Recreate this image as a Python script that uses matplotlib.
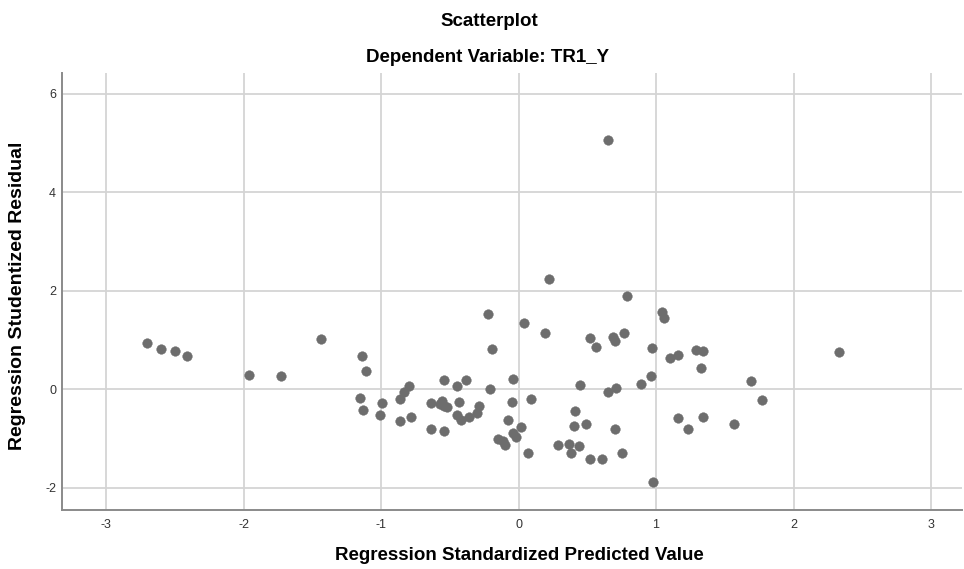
import matplotlib
matplotlib.use("Agg")
import matplotlib.pyplot as plt
from matplotlib.ticker import FixedLocator

predicted = [
    -2.70, -2.60, -2.50, -2.41, -1.96, -1.73, -1.44, -1.14, -1.11, -1.15,
    -1.13, -0.99, -1.01, -0.86, -0.83, -0.80, -0.86, -0.78, -0.64, -0.64,
    -0.57, -0.56, -0.54, -0.52, -0.54, -0.54, -0.45, -0.45, -0.43, -0.42,
    -0.38, -0.36, -0.30, -0.29, -0.22, -0.19, -0.21, -0.15, -0.11, -0.10,
    -0.08, -0.05, -0.04, -0.04, -0.02, 0.02, 0.04, 0.07, 0.09, 0.19,
    0.22, 0.29, 0.37, 0.44, 0.38, 0.40, 0.41, 0.49, 0.45, 0.52,
    0.61, 0.52, 0.56, 0.65, 0.71, 0.70, 0.75, 0.69, 0.70, 0.77,
    0.79, 0.89, 0.96, 0.97, 0.98, 1.04, 1.06, 1.10, 1.16, 1.16,
    0.65, 1.29, 1.34, 1.33, 1.69, 1.77, 1.23, 1.34, 1.57, 2.33,
]
residual = [
    0.95, 0.81, 0.77, 0.68, 0.30, 0.28, 1.03, 0.68, 0.37, -0.18,
    -0.41, -0.27, -0.52, -0.20, -0.06, 0.06, -0.64, -0.56, -0.27, -0.81,
    -0.30, -0.23, -0.33, -0.35, 0.18, -0.85, 0.07, -0.52, -0.26, -0.63,
    0.18, -0.56, -0.49, -0.33, 1.52, 0.82, 0.01, -1.01, -1.04, -1.13,
    -0.62, -0.26, 0.21, -0.89, -0.96, -0.77, 1.35, -1.30, -0.20, 1.14,
    2.25, -1.13, -1.11, -1.15, -1.30, -0.75, -0.43, -0.70, 0.09, -1.42,
    -1.41, 1.04, 0.85, -0.06, 0.02, -0.81, -1.30, 1.06, 0.99, 1.14,
    1.89, 0.11, 0.27, 0.84, -1.89, 1.57, 1.44, 0.63, 0.70, -0.58,
    5.06, 0.80, 0.77, 0.44, 0.17, -0.22, -0.80, -0.56, -0.70, 0.76,
]
x_ticks = [-3, -2, -1, 0, 1, 2, 3]
y_ticks = [-2, 0, 2, 4, 6]
title_main = "Scatterplot"
title_sub = "Dependent Variable: TR1_Y"
x_label = "Regression Standardized Predicted Value"
y_label = "Regression Studentized Residual"

plt.rcParams['font.family'] = ['Liberation Sans', 'DejaVu Sans']

W, H = 964, 569
fig = plt.figure(figsize=(W / 100, H / 100), dpi=100)
left, right, top, bottom = 62, 962, 72.7, 510
ax = fig.add_axes([left / W, 1 - bottom / H, (right - left) / W, (bottom - top) / H])

ax.scatter(predicted, residual, s=48, color='#6d6d6d', edgecolors='#6d6d6d',
           linewidths=0.3, zorder=3)

ax.set_xlim(-3.32, 3.225)
ax.set_ylim(-2.45, 6.43)
ax.xaxis.set_major_locator(FixedLocator(x_ticks))
ax.yaxis.set_major_locator(FixedLocator(y_ticks))
tick_family = ['Liberation Sans Narrow', 'Liberation Sans', 'DejaVu Sans']
ax.set_xticklabels([str(v) for v in x_ticks], family=tick_family)
ax.set_yticklabels([str(v) for v in y_ticks], family=tick_family)
ax.tick_params(length=0, labelsize=9, colors='#333333')
ax.tick_params(axis='x', pad=6.5)
ax.tick_params(axis='y', pad=4.3)
ax.grid(True, color='#d4d4d4', linewidth=1.3, zorder=0)
ax.set_axisbelow(True)
for s in ['top', 'right']:
    ax.spines[s].set_visible(False)
for s in ['left', 'bottom']:
    ax.spines[s].set_color('#8a8a8a')
    ax.spines[s].set_linewidth(1.4)

fig.text(489 / W, 1 - 22 / H, title_main, ha='center', va='center',
         fontsize=13.5, fontweight='bold')
fig.text(487.5 / W, 1 - 57 / H, title_sub, ha='center', va='center',
         fontsize=13.5, fontweight='bold')
fig.text(519 / W, 1 - 556 / H, x_label, ha='center', va='center',
         fontsize=13.5, fontweight='bold')
fig.text(18 / W, 1 - 295.5 / H, y_label, ha='center', va='center',
         rotation=90, fontsize=14, fontweight='bold')

fig.savefig("out.png", dpi=100)
